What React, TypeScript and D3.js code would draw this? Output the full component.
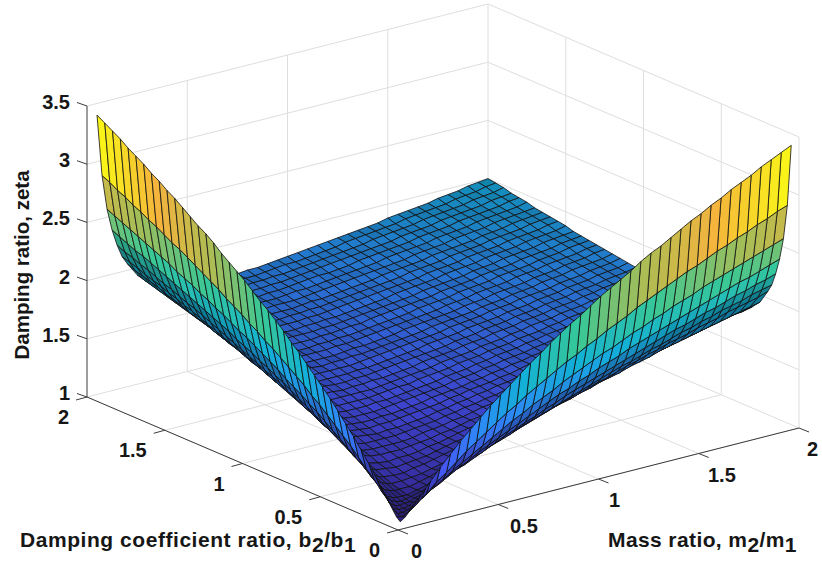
import React from "react";
import * as d3 from "d3";

// mesh positions, same for both ratios
const ratioAxis = [
  0.05, 0.075, 0.1, 0.125, 0.15, 0.175, 0.2, 0.25, 0.3, 0.35, 0.4, 0.45, 0.5, 0.55, 0.6, 0.65, 0.7, 0.75, 0.8, 0.85,
  0.9, 0.95, 1, 1.05, 1.1, 1.15, 1.2, 1.25, 1.3, 1.35, 1.4, 1.45, 1.5, 1.55, 1.6, 1.65, 1.7, 1.75, 1.8, 1.85, 1.9,
  1.95, 2,
];

// zeta x 100, upper triangle only (the surface is mirror symmetric): row i holds columns i..end
const zetaUpper = [
  [102,105,110,115,120,125,130,140,149,158,166,174,182,189,196,203,210,216,223,229,235,240,246,252,257,262,267,273,278,282,287,292,297,301,306,310,315,319,323,328,332,336,340],
  [104,105,108,111,115,118,126,132,139,146,152,158,164,170,175,181,186,191,196,201,205,210,214,219,223,227,232,236,240,244,248,252,255,259,263,266,270,273,277,280,284,287],
  [105,106,108,111,113,119,124,130,135,140,145,150,155,160,164,169,173,177,182,186,190,194,198,201,205,209,212,216,219,223,226,229,233,236,239,242,245,248,251,254,257],
  [106,107,109,111,115,119,124,129,133,138,142,146,150,154,158,162,166,170,173,177,180,184,187,190,194,197,200,203,206,209,212,215,218,221,224,227,229,232,235,238],
  [108,108,110,113,117,121,125,128,132,136,140,144,147,151,154,158,161,165,168,171,174,177,180,183,186,189,192,195,198,200,203,206,208,211,214,216,219,221,224],
  [109,110,112,115,118,122,125,129,132,136,139,142,146,149,152,155,158,161,164,167,170,173,176,178,181,184,186,189,192,194,197,199,202,204,206,209,211,213],
  [110,112,114,117,120,123,127,130,133,136,139,142,145,148,151,154,157,159,162,165,167,170,173,175,178,180,183,185,187,190,192,194,197,199,201,203,206],
  [112,114,116,119,121,124,126,129,132,134,137,140,142,145,148,150,152,155,157,160,162,164,167,169,171,174,176,178,180,182,184,186,188,190,192,194],
  [115,116,118,120,123,125,127,130,132,134,137,139,141,144,146,148,151,153,155,157,159,161,164,166,168,170,172,174,176,178,180,182,184,185,187],
  [118,119,121,123,125,127,129,131,133,135,137,139,142,144,146,148,150,152,154,156,158,160,162,164,166,168,170,172,173,175,177,179,181,182],
  [120,121,123,125,127,128,130,132,134,136,138,140,142,144,146,148,150,152,154,156,158,160,161,163,165,167,169,170,172,174,176,177,179],
  [122,124,125,127,129,131,132,134,136,138,140,142,144,145,147,149,151,153,155,156,158,160,162,163,165,167,168,170,172,173,175,177],
  [125,126,128,129,131,133,134,136,138,140,141,143,145,147,149,150,152,154,155,157,159,160,162,164,165,167,169,170,172,173,175],
  [128,129,130,132,133,135,137,138,140,142,143,145,147,148,150,152,153,155,157,158,160,162,163,165,166,168,169,171,172,174],
  [130,131,133,134,136,137,139,140,142,144,145,147,149,150,152,153,155,157,158,160,161,163,164,166,167,169,170,172,173],
  [132,134,135,137,138,140,141,143,144,146,147,149,150,152,154,155,157,158,160,161,163,164,166,167,169,170,172,173],
  [135,136,138,139,141,142,143,145,146,148,150,151,153,154,156,157,159,160,162,163,165,166,167,169,170,172,173],
  [138,139,140,141,143,144,146,147,149,150,152,153,155,156,158,159,161,162,163,165,166,168,169,171,172,173],
  [140,141,143,144,145,147,148,150,151,152,154,155,157,158,160,161,163,164,165,167,168,170,171,172,174],
  [142,144,145,146,148,149,151,152,153,155,156,158,159,160,162,163,165,166,168,169,170,172,173,174],
  [145,146,148,149,150,152,153,154,156,157,158,160,161,163,164,165,167,168,170,171,172,174,175],
  [148,149,150,151,153,154,155,157,158,160,161,162,164,165,166,168,169,171,172,173,175,176],
  [150,151,153,154,155,157,158,159,161,162,163,165,166,167,169,170,172,173,174,175,177],
  [152,154,155,156,158,159,160,162,163,164,166,167,168,170,171,172,174,175,176,178],
  [155,156,158,159,160,161,163,164,165,167,168,169,171,172,173,175,176,177,179],
  [158,159,160,161,163,164,165,167,168,169,170,172,173,174,176,177,178,180],
  [160,161,162,164,165,166,168,169,170,172,173,174,176,177,178,179,181],
  [162,164,165,166,168,169,170,171,173,174,175,177,178,179,181,182],
  [165,166,168,169,170,171,173,174,175,177,178,179,180,182,183],
  [168,169,170,171,173,174,175,176,178,179,180,182,183,184],
  [170,171,173,174,175,176,178,179,180,181,183,184,185],
  [172,174,175,176,178,179,180,181,183,184,185,186],
  [175,176,178,179,180,181,183,184,185,186,188],
  [178,179,180,181,183,184,185,186,188,189],
  [180,181,183,184,185,186,188,189,190],
  [182,184,185,186,188,189,190,191],
  [185,186,188,189,190,191,192],
  [188,189,190,191,192,194],
  [190,191,192,194,195],
  [192,194,195,196],
  [195,196,198],
  [198,199],
  [200],
];

const ratioTicks = [0, 0.5, 1, 1.5, 2];
const zetaTicks = [1, 1.5, 2, 2.5, 3, 3.5];
const parula = ["#3e2aa8", "#4752f4", "#2e87f7", "#12b1d6", "#37c897", "#a9bd55", "#f5b43c", "#f9fb15"];

const zetaAt = (i: number, j: number) => (i <= j ? zetaUpper[i][j - i] : zetaUpper[j][i - j]) / 100;

// orthographic axes: each data axis adds its own screen offset from the (0,0,1) corner
const mToX = d3.scaleLinear().domain([0, 2]).range([0, 401]);
const mToY = d3.scaleLinear().domain([0, 2]).range([0, -102]);
const bToX = d3.scaleLinear().domain([0, 2]).range([0, -311]);
const bToY = d3.scaleLinear().domain([0, 2]).range([0, -133]);
const zToY = d3.scaleLinear().domain([1, 3.5]).range([0, -291]);
const origin: [number, number] = [398, 530];

const project = (m: number, b: number, z: number): [number, number] => [
  origin[0] + mToX(m) + bToX(b),
  origin[1] + mToY(m) + bToY(b) + zToY(z),
];

// distance from the viewer, used to paint the far cells first
const depth = (m: number, b: number, z: number) => 0.945 * (0.613 * (m / 2) + 0.79 * (b / 2)) - 0.2 * ((z - 1) / 2.5);

const colorScale = d3
  .scaleLinear<string>()
  .domain(parula.map((_, i) => 1.02 + (i * (3.4 - 1.02)) / (parula.length - 1)))
  .range(parula)
  .clamp(true);

// small cells read darker in the picture because the mesh lines cover more of them
const meshShade = d3.scaleLinear().domain([60, 110]).range([0.3, 0]).clamp(true);

const line = d3.line();

const gridColor = "#dedede";
const axisColor = "#3c3c3c";
const labelStyle = { fontFamily: "'Liberation Sans', Arial, sans-serif", fontWeight: 700, fontSize: 20, fill: "#161616" };
const titleStyle = { ...labelStyle, fontSize: 21, letterSpacing: 0.4 };

const App = () => {
  const cells: { d: string; fill: string; far: number; key: string }[] = [];
  for (let i = 0; i < ratioAxis.length - 1; i++) {
    for (let j = 0; j < ratioAxis.length - 1; j++) {
      const corners: [number, number][] = [
        [i, j],
        [i + 1, j],
        [i + 1, j + 1],
        [i, j + 1],
      ];
      const pts = corners.map(([a, c]) => project(ratioAxis[a], ratioAxis[c], zetaAt(a, c)));
      const far = d3.mean(corners, ([a, c]) => depth(ratioAxis[a], ratioAxis[c], zetaAt(a, c))) as number;
      const shade = meshShade(Math.abs(d3.polygonArea(pts)));
      const fill = d3.interpolateRgb(colorScale(zetaAt(i, j)), "#000")(shade);
      cells.push({ d: line(pts) + "Z", fill, far, key: `${i}-${j}` });
    }
  }
  cells.sort((p, q) => q.far - p.far);

  const seg = (a: [number, number, number], b: [number, number, number], stroke: string, key: string, w = 1) => {
    const [x1, y1] = project(...a);
    const [x2, y2] = project(...b);
    return <line key={key} x1={x1} y1={y1} x2={x2} y2={y2} stroke={stroke} strokeWidth={w} />;
  };

  return (
    <svg width={822} height={569} style={{ position: "absolute", left: 0, top: 0, background: "#fff" }}>
      {/* back walls and floor grid */}
      {zetaTicks.slice(1).map((z) => (
        <g key={`wall-${z}`}>
          {seg([0, 2, z], [2, 2, z], gridColor, "l")}
          {seg([2, 2, z], [2, 0, z], gridColor, "r")}
        </g>
      ))}
      {ratioTicks.map((t) => (
        <g key={`grid-${t}`}>
          {t > 0 && seg([t, 2, 1], [t, 2, 3.5], gridColor, "mw")}
          {t < 2 && seg([2, t, 1], [2, t, 3.5], gridColor, "bw")}
          {seg([t, 0, 1], [t, 2, 1], gridColor, "mf")}
          {seg([0, t, 1], [2, t, 1], gridColor, "bf")}
        </g>
      ))}

      {/* axes */}
      {seg([0, 2, 1], [0, 2, 3.5], axisColor, "zaxis")}
      {seg([0, 0, 1], [0, 2, 1], axisColor, "baxis")}
      {seg([0, 0, 1], [2, 0, 1], axisColor, "maxis")}
      {ratioTicks.map((t) => {
        const [bx, by] = project(0, t, 1);
        const [mx, my] = project(t, 0, 1);
        return (
          <g key={`tick-${t}`} stroke={axisColor}>
            <line x1={bx} y1={by} x2={bx - 11} y2={by + 3} />
            <line x1={mx} y1={my} x2={mx + 10} y2={my + 4} />
          </g>
        );
      })}
      {zetaTicks.map((z) => {
        const [x, y] = project(0, 2, z);
        return <line key={`ztick-${z}`} x1={x} y1={y} x2={x - 10} y2={y - 3.5} stroke={axisColor} />;
      })}

      {/* surface */}
      <g stroke="#101010" strokeWidth={0.8} strokeLinejoin="round">
        {cells.map((c) => (
          <path key={c.key} d={c.d} fill={c.fill} />
        ))}
      </g>

      {/* tick labels */}
      {zetaTicks.map((z) => {
        const [x, y] = project(0, 2, z);
        return (
          <text key={`zl-${z}`} x={x - 17} y={y - 4} textAnchor="end" dominantBaseline="central" {...labelStyle}>
            {z}
          </text>
        );
      })}
      {ratioTicks.map((t) => {
        const [x, y] = project(0, t, 1);
        return (
          <text key={`bl-${t}`} x={x - 18} y={y + 20} textAnchor="end" dominantBaseline="central" {...labelStyle}>
            {t}
          </text>
        );
      })}
      {ratioTicks.map((t) => {
        const [x, y] = project(t, 0, 1);
        return (
          <text key={`ml-${t}`} x={x + 13 - 2.5 * t} y={y + 21} dominantBaseline="central" {...labelStyle}>
            {t}
          </text>
        );
      })}

      {/* axis titles */}
      <text transform="translate(29,265) rotate(-90)" textAnchor="middle" {...labelStyle} fontSize={20.5}>
        Damping ratio, zeta
      </text>
      <text x={20} y={547} {...titleStyle} letterSpacing={0.55}>
        Damping coefficient ratio, b
        <tspan dy={5}>2</tspan>
        <tspan dy={-5}>/b</tspan>
        <tspan dy={5}>1</tspan>
      </text>
      <text x={608} y={547} {...titleStyle}>
        Mass ratio, m
        <tspan dy={5}>2</tspan>
        <tspan dy={-5}>/m</tspan>
        <tspan dy={5}>1</tspan>
      </text>
    </svg>
  );
};

export default App;
